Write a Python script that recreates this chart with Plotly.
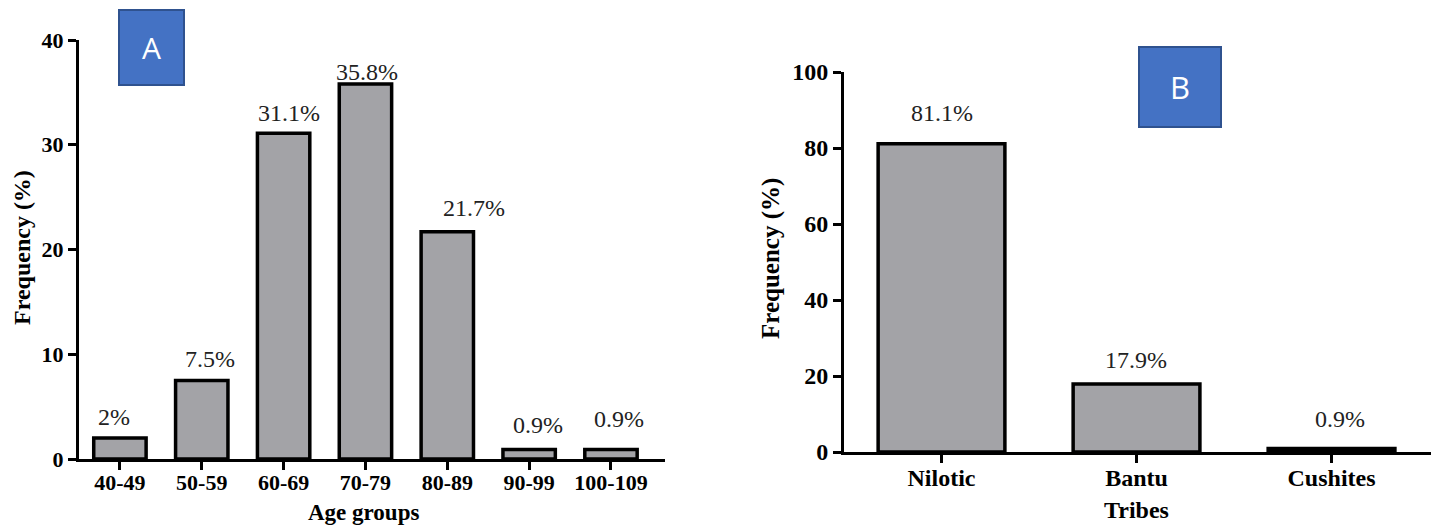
import plotly.graph_objects as go

# ---- data ----
age_groups = ["40-49", "50-59", "60-69", "70-79", "80-89", "90-99", "100-109"]
age_freq = [2, 7.5, 31.1, 35.8, 21.7, 0.9, 0.9]
age_labels = ["2%", "7.5%", "31.1%", "35.8%", "21.7%", "0.9%", "0.9%"]

tribes = ["Nilotic", "Bantu", "Cushites"]
tribe_freq = [81.1, 17.9, 0.9]
tribe_labels = ["81.1%", "17.9%", "0.9%"]

yticks_a = [0, 10, 20, 30, 40]
yticks_b = [0, 20, 40, 60, 80, 100]

# ---- label placement tweaks (pixels) ----
age_label_dx = [-6, 8, 5, 2, 27, 9, 8]
age_label_dy = [21, 21, 20, 12, 24, 25, 31]
tribe_label_dx = [0, -1, 8]
tribe_label_dy = [31, 24, 30]

# page body has an 8px margin, so the figure is sized to fit the window
OFF = 8
W, H = 1439 - OFF, 529 - OFF
SERIF = "Liberation Serif, Times New Roman, serif"
BAR_FILL = "#A3A3A7"


def px_x(p):
    return (p - OFF) / W


def px_y(p):
    return 1 - (p - OFF) / H


fig = go.Figure()
fig.add_trace(go.Bar(
    x=age_groups, y=age_freq, xaxis="x", yaxis="y", width=0.64,
    marker=dict(color=BAR_FILL, line=dict(color="black", width=3.5)),
    hoverinfo="x+y", showlegend=False,
))
fig.add_trace(go.Bar(
    x=tribes, y=tribe_freq, xaxis="x2", yaxis="y2", width=0.65,
    marker=dict(color=BAR_FILL, line=dict(color="black", width=3.5)),
    hoverinfo="x+y", showlegend=False,
))

axis_common = dict(
    showline=True, linecolor="black", linewidth=3,
    ticks="outside", ticklen=8, tickwidth=2.5, tickcolor="black",
    showgrid=False, zeroline=False, fixedrange=True, automargin=False,
)

fig.update_layout(
    width=W, height=H,
    margin=dict(l=0, r=0, t=0, b=0, pad=0, autoexpand=False),
    paper_bgcolor="white", plot_bgcolor="white",
    bargap=0.35,
    xaxis=dict(
        domain=[px_x(79), px_x(665)], anchor="y", type="category",
        range=[-0.5, 6.66], ticklabelstandoff=-6,
        tickfont=dict(family=SERIF, size=22, color="black", weight="bold"),
        **axis_common,
    ),
    yaxis=dict(
        domain=[px_y(459), px_y(40)], anchor="x", range=[0, 40],
        tickvals=yticks_a,
        tickfont=dict(family=SERIF, size=22, color="black", weight="bold"),
        **axis_common,
    ),
    xaxis2=dict(
        domain=[px_x(844), px_x(1431)], anchor="y2", type="category",
        range=[-0.5, 2.51], ticklabelstandoff=-6,
        tickfont=dict(family=SERIF, size=24, color="black", weight="bold"),
        **axis_common,
    ),
    yaxis2=dict(
        domain=[px_y(452), px_y(72)], anchor="x2", range=[0, 100],
        tickvals=yticks_b,
        tickfont=dict(family=SERIF, size=24, color="black", weight="bold"),
        **axis_common,
    ),
)

annotations = []
# bar value labels
for cat, val, lab, dx, dy in zip(age_groups, age_freq, age_labels, age_label_dx, age_label_dy):
    annotations.append(dict(
        x=cat, y=val, xref="x", yref="y", text=lab, showarrow=False,
        xanchor="center", yanchor="middle", xshift=dx, yshift=dy,
        font=dict(family=SERIF, size=24, color="#222222"),
    ))
for cat, val, lab, dx, dy in zip(tribes, tribe_freq, tribe_labels, tribe_label_dx, tribe_label_dy):
    annotations.append(dict(
        x=cat, y=val, xref="x2", yref="y2", text=lab, showarrow=False,
        xanchor="center", yanchor="middle", xshift=dx, yshift=dy,
        font=dict(family=SERIF, size=24, color="#222222"),
    ))

# axis titles
title_font_a = dict(family=SERIF, size=24, color="black", weight="bold")
title_font_b = dict(family=SERIF, size=25, color="black", weight="bold")
annotations += [
    dict(x=px_x(22), y=px_y(248), xref="paper", yref="paper", text="Frequency (%)",
         textangle=-90, showarrow=False, xanchor="center", yanchor="middle", font=title_font_a),
    dict(x=px_x(363), y=px_y(512), xref="paper", yref="paper", text="Age groups",
         showarrow=False, xanchor="center", yanchor="middle",
         font=dict(family=SERIF, size=23, color="black", weight="bold")),
    dict(x=px_x(771), y=px_y(259), xref="paper", yref="paper", text="Frequency (%)",
         textangle=-90, showarrow=False, xanchor="center", yanchor="middle", font=title_font_b),
    dict(x=px_x(1136), y=px_y(510), xref="paper", yref="paper", text="Tribes",
         showarrow=False, xanchor="center", yanchor="middle",
         font=dict(family=SERIF, size=24, color="black", weight="bold")),
]

# panel letters
annotations += [
    dict(x=px_x(151.5), y=px_y(47.5), xref="paper", yref="paper", text="A", showarrow=False,
         xanchor="center", yanchor="middle",
         font=dict(family="Open Sans, Liberation Sans, Arial", size=30, color="white")),
    dict(x=px_x(1180), y=px_y(87), xref="paper", yref="paper", text="B", showarrow=False,
         xanchor="center", yanchor="middle",
         font=dict(family="Open Sans, Liberation Sans, Arial", size=31, color="white")),
]
fig.update_layout(annotations=annotations)

fig.update_layout(shapes=[
    dict(type="rect", xref="paper", yref="paper",
         x0=px_x(119), x1=px_x(184), y0=px_y(85), y1=px_y(10),
         fillcolor="#4472C4", line=dict(color="#2F528F", width=2), layer="below"),
    dict(type="rect", xref="paper", yref="paper",
         x0=px_x(1139), x1=px_x(1221), y0=px_y(127), y1=px_y(47),
         fillcolor="#4472C4", line=dict(color="#2F528F", width=2), layer="below"),
])

fig.write_html("out.html")
